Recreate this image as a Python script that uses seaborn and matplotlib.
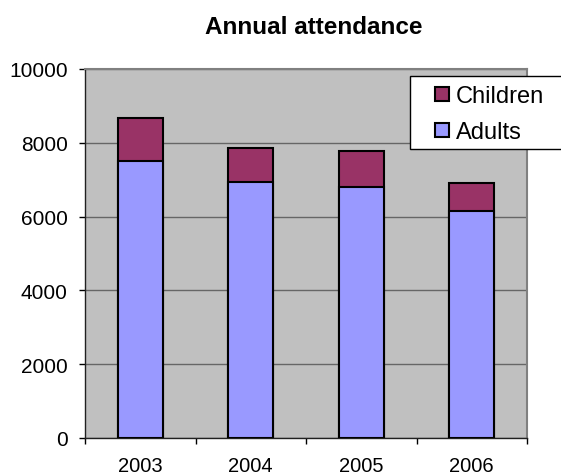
import pandas as pd
import matplotlib
matplotlib.use("Agg")
import matplotlib.pyplot as plt
import seaborn as sns
from matplotlib.lines import Line2D
from matplotlib.patches import Rectangle

# Data
years = ["2003", "2004", "2005", "2006"]
adults = [7520, 6930, 6800, 6160]
children = [1160, 930, 990, 750]

df = pd.DataFrame({"year": years, "adults": adults, "children": children})
df["total"] = df["adults"] + df["children"]

sns.set_style("white")
plt.rcParams["font.family"] = ["Liberation Sans", "DejaVu Sans"]
plt.rcParams["text.color"] = "black"
plt.rcParams["xtick.color"] = "black"
plt.rcParams["ytick.color"] = "black"

fig = plt.figure(figsize=(5.61, 4.77), dpi=100)
ax = fig.add_axes([85 / 561, 1 - 439 / 477, 442 / 561, 369 / 477])
ax.set_facecolor("#C0C0C0")

# stacked: total bar (children colour) with adults drawn over it
sns.barplot(data=df, x="year", y="total", color="#993366", width=0.41,
            edgecolor="black", linewidth=1.5, saturation=1, ax=ax, zorder=3)
sns.barplot(data=df, x="year", y="adults", color="#9999FF", width=0.41,
            edgecolor="black", linewidth=1.5, saturation=1, ax=ax, zorder=4)

ax.set_ylim(0, 10000)
ax.set_xlim(-0.5, 3.5)
ax.set_yticks(range(0, 10001, 2000))
ax.yaxis.grid(True, color="#666666", linewidth=1.0, zorder=1)
ax.set_axisbelow(True)

# ticks at category boundaries, labels centred
ax.set_xticks([-0.5, 0.5, 1.5, 2.5, 3.5])
ax.set_xticklabels([])
ax.set_xticks(range(len(years)), minor=True)
ax.set_xticklabels(years, minor=True)
ax.tick_params(axis="x", which="major", bottom=True, direction="out", length=4.5,
               width=1, color="black")
ax.tick_params(axis="x", which="minor", bottom=True, length=0, pad=13, labelsize=14.5)
ax.tick_params(axis="y", left=True, direction="out", length=4.5, width=1,
               color="black", labelsize=15, pad=8)
ax.set_xlabel("")
ax.set_ylabel("")

for side in ["top", "right"]:
    ax.spines[side].set_color("#808080")
    ax.spines[side].set_linewidth(1.5)
for side in ["left", "bottom"]:
    ax.spines[side].set_color("#202020")
    ax.spines[side].set_linewidth(1.0)

fig.text(314 / 561, 1 - 27 / 477, "Annual attendance", ha="center", va="center",
         fontsize=17.5, fontweight="bold")

# legend box runs past the right edge of the image in the original,
# so draw the frame by hand
ax.add_patch(Rectangle((410 / 561, 1 - 150 / 477), 170 / 561, 73 / 477,
                       transform=fig.transFigure, facecolor="white",
                       edgecolor="black", linewidth=1.0, clip_on=False, zorder=9))
handles = [Line2D([], [], linestyle="none", marker="s", markersize=10,
                  markerfacecolor="#993366", markeredgecolor="black",
                  markeredgewidth=1.5, label="Children"),
           Line2D([], [], linestyle="none", marker="s", markersize=10,
                  markerfacecolor="#9999FF", markeredgecolor="black",
                  markeredgewidth=1.5, label="Adults")]
leg = ax.legend(handles=handles, loc="upper left", bbox_to_anchor=(0.735, 0.975),
                frameon=False, fontsize=17, handlelength=2.1,
                handletextpad=-0.44, borderpad=0.3, labelspacing=0.6,
                borderaxespad=0)
leg.set_zorder(10)

fig.savefig("out.png", dpi=100)
